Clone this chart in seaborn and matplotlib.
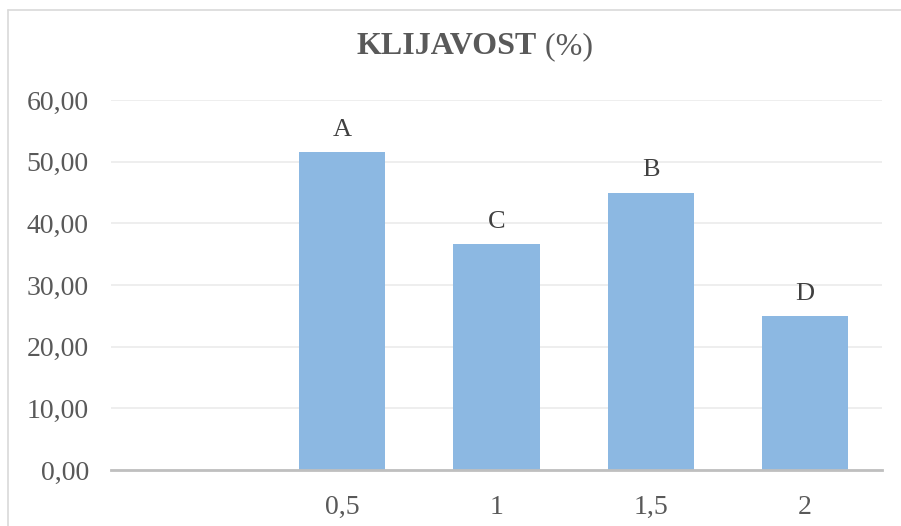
import matplotlib
matplotlib.use("Agg")
import matplotlib.pyplot as plt
import seaborn as sns
import pandas as pd
from matplotlib.lines import Line2D

categories = ["", "0,5", "1", "1,5", "2"]
values = [0.0, 51.6, 36.6, 45.0, 25.0]
letters = ["", "A", "C", "B", "D"]
yticks = [0, 10, 20, 30, 40, 50, 60]
ytick_labels = ["0,00", "10,00", "20,00", "30,00", "40,00", "50,00", "60,00"]

sns.set_theme(style="white")
plt.rcParams['font.family'] = ['Liberation Serif', 'DejaVu Serif']

W, H = 901, 526
fig = plt.figure(figsize=(W / 100, H / 100), dpi=100)
ax = fig.add_axes([111 / W, 1 - 470 / H, (882 - 111) / W, (470 - 100) / H])

df = pd.DataFrame({"cat": categories, "val": values})
sns.barplot(data=df, x="cat", y="val", order=categories, color="#8cb8e2",
            saturation=1, width=0.56, linewidth=0, ax=ax, zorder=3)

ax.set_xlim(-0.5, len(categories) - 0.5)
ax.set_ylim(0, 60)
ax.set_yticks(yticks)
ax.set_yticklabels(ytick_labels)
ax.set_xlabel("")
ax.set_ylabel("")
ax.yaxis.grid(True, color="#ebebeb", linewidth=1.2, zorder=0)
ax.set_axisbelow(True)
for s in ["top", "right", "left"]:
    ax.spines[s].set_visible(False)
ax.spines["bottom"].set_color("#bfbfbf")
ax.spines["bottom"].set_linewidth(2)
ax.spines["bottom"].set_zorder(4)
ax.tick_params(axis="y", length=0, pad=16, labelsize=20, labelcolor="#595959")
ax.tick_params(axis="x", length=0, pad=18, labelsize=20, labelcolor="#595959")

for i, (v, t) in enumerate(zip(values, letters)):
    if t:
        ax.annotate(t, (i, v), xytext=(0, 8), textcoords="offset points",
                    ha="center", va="bottom", fontsize=19, color="#404040")

fig.text(537 / W, 1 - 47 / H, "KLIJAVOST", ha="right", va="center",
         fontsize=23, fontweight="bold", color="#595959")
fig.text(537 / W, 1 - 47 / H, " (%)", ha="left", va="center",
         fontsize=23, color="#595959")

bx, by = 8 / W, 1 - 10 / H
fig.lines.append(Line2D([bx, 1.0], [by, by], transform=fig.transFigure,
                        color="#d9d9d9", linewidth=1.2))
fig.lines.append(Line2D([bx, bx], [0.0, by], transform=fig.transFigure,
                        color="#d9d9d9", linewidth=1.2))

fig.savefig("out.png", dpi=100, facecolor="white")
